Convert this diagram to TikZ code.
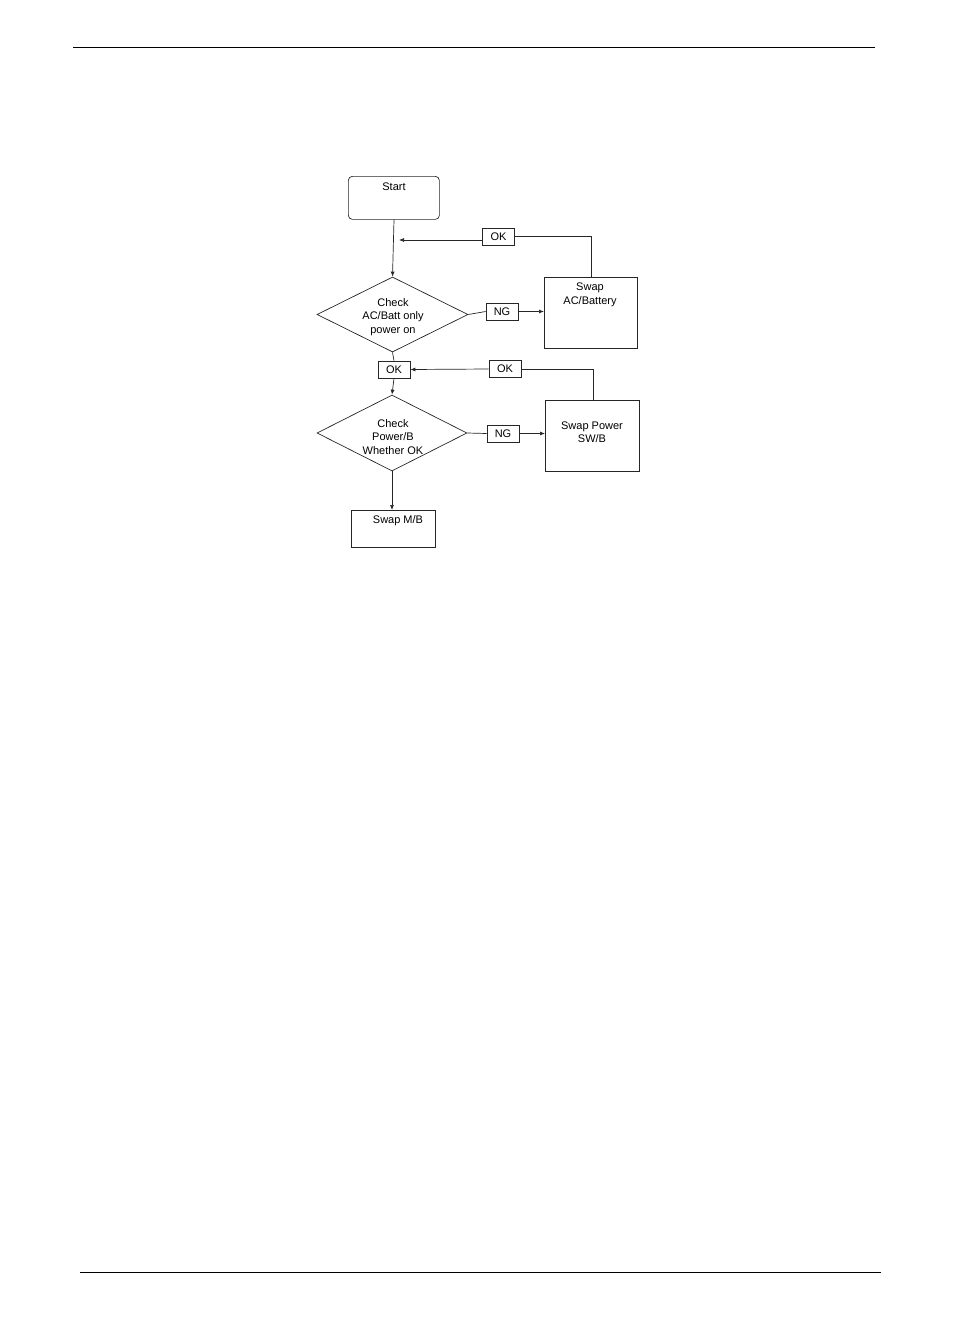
\documentclass[tikz,border=0pt]{standalone}
\usepackage{fontspec}
\setmainfont{Liberation Sans}
\usetikzlibrary{shapes.geometric,arrows.meta}
\begin{document}
\begin{tikzpicture}[x=1pt,y=-1pt,
  ln/.style={line width=0.7pt,draw=black!85},
  arr/.style={ln,-{Latex[length=5pt,width=4pt]}},
  box/.style={ln,rectangle,inner sep=0pt,anchor=north west},
  lab/.style={font=\fontsize{11}{13.5}\selectfont,align=center,inner sep=0pt},
  tag/.style={ln,rectangle,inner sep=0pt,minimum width=32pt,minimum height=17pt,font=\fontsize{11}{13}\selectfont}]
\useasboundingbox (0,0) rectangle (954,1336);
\draw[line width=0.8pt] (73,47) -- (875,47);
\draw[line width=0.8pt] (80,1272) -- (881,1272);
% boxes
\node[box,rounded corners=4pt,minimum width=91pt,minimum height=43pt] (start) at (348,176) {};
\node[lab] (startt) at (394,187) {Start};
\node[ln,diamond,aspect=2,minimum width=151pt,minimum height=75pt,inner sep=0pt] (d1) at (392.5,314.5) {};
\node[lab] (d1t) at (393,317) {Check\\AC/Batt only\\power on};
\node[box,minimum width=93pt,minimum height=71pt] (sab) at (544,277) {};
\node[lab] (sabt) at (590,295) {Swap\\AC/Battery};
\node[ln,diamond,aspect=2,minimum width=150pt,minimum height=76pt,inner sep=0pt] (d2) at (392,433) {};
\node[lab] (d2t) at (393,437) {Check\\Power/B\\Whether OK};
\node[box,minimum width=94pt,minimum height=71pt] (spw) at (545,400) {};
\node[lab] (spwt) at (592,432) {Swap Power\\SW/B};
\node[box,minimum width=84pt,minimum height=37pt] (smb) at (351,510) {};
\node[lab] (smbt) at (398,521) {Swap M/B};
% tags
\node[tag] (ok1) at (498.5,236.5) {OK};
\node[tag] (ng1) at (502,311.5) {NG};
\node[tag] (ok2) at (394,369.5) {OK};
\node[tag] (ok3) at (505,369) {OK};
\node[tag] (ng2) at (503,433.5) {NG};
% connectors
\coordinate (m1) at (394,240);
\coordinate (m1a) at (399,240);
\draw[arr] (start.south -| m1) -- (d1.north);
\draw[ln] (sab.north -| 591,0) |- (ok1.east);
\draw[arr] (ok1.west |- m1) -- (m1a);
\draw[ln] (d1.east) -- (ng1.west);
\draw[arr] (ng1.east) -- (sab.west |- ng1.east);
\draw[ln] (d1.south) -- (ok2.north);
\draw[arr] (ok2.south) -- (d2.north);
\draw[ln] (spw.north -| 593,0) |- (ok3.east);
\draw[arr] (ok3.west) -- (ok2.east);
\draw[ln] (d2.east) -- (ng2.west);
\draw[arr] (ng2.east) -- (spw.west |- ng2.east);
\draw[arr] (d2.south) -- (smb.north -| d2.south);
\end{tikzpicture}
\end{document}
